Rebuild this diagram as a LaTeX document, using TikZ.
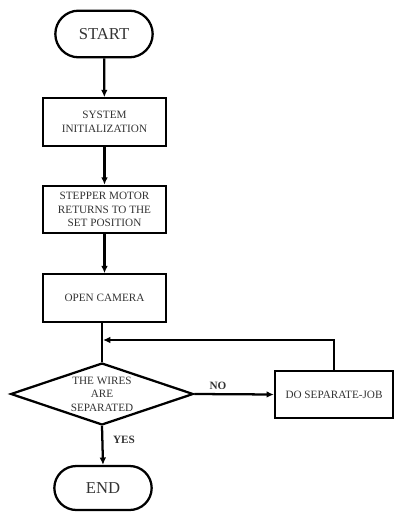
\documentclass[tikz,border=0pt]{standalone}
\usepackage{fontspec}
\setmainfont{Liberation Serif}
\usetikzlibrary{shapes.geometric,shapes.misc,arrows.meta}
\begin{document}
\begin{tikzpicture}[x=0.75pt,y=-0.75pt,
  line width=1.7pt,
  every node/.style={text=black!80, align=center, inner sep=0pt},
  term/.style={draw, rounded rectangle, minimum width=73pt, minimum height=35pt, font=\fontsize{12.5}{14}\selectfont},
  proc/.style={draw, rectangle, minimum width=92pt, minimum height=35.5pt, font=\fontsize{8.4}{10.1}\selectfont},
  dec/.style={draw, diamond, aspect=3, minimum width=137pt, minimum height=46.5pt, font=\fontsize{8.4}{10.1}\selectfont},
  lbl/.style={font=\bfseries\fontsize{8.4}{10}\selectfont},
  arr/.style={-{Latex[length=5.5pt,width=5pt]}}
]
\useasboundingbox (0,0) rectangle (395,513);
\node[term] (start) at (104,34) {START};
\node[proc] (sys) at (104.5,122) {SYSTEM\\INITIALIZATION};
\node[proc] (step) at (104.5,209.5) {STEPPER MOTOR\\RETURNS TO THE\\SET POSITION};
\node[proc] (cam) at (104.5,298) {OPEN CAMERA};
\node[dec] (dia) at (102,394) {THE WIRES\\ARE\\SEPARATED};
\node[proc, minimum width=88.5pt] (job) at (334,394.5) {DO SEPARATE-JOB};
\node[term, minimum height=33pt] (end) at (103,488) {END};
\coordinate (loopin) at (103,340);
\node[lbl] (no) at (218,386) {NO};
\node[lbl] (yes) at (124,440) {YES};

\draw[arr] (start) -- (sys);
\draw[arr] (sys) -- (step);
\draw[arr] (step) -- (cam);
\draw (cam.south -| dia.north) -- (dia.north);
\draw[arr] (dia.east) -- (job.west);
\draw[arr] (job.north) |- (loopin);
\draw[arr] (dia.south) -- (end.north);
\end{tikzpicture}
\end{document}
